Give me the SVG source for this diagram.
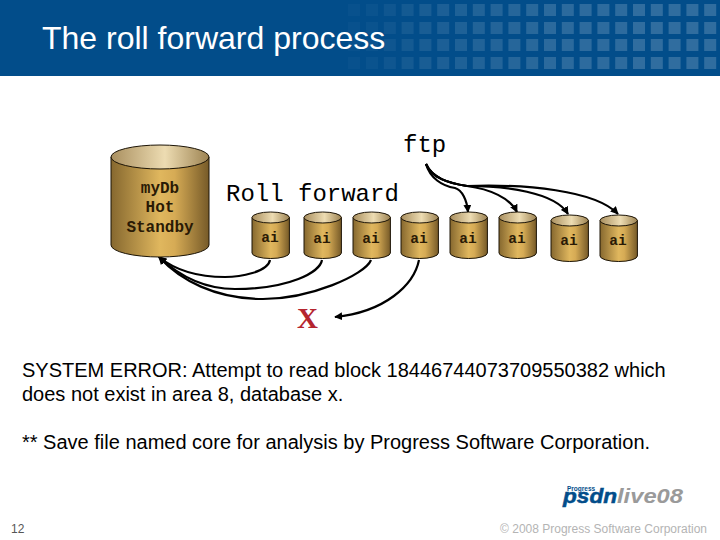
<svg xmlns="http://www.w3.org/2000/svg" width="720" height="540" viewBox="0 0 720 540">
<style>
.mono{font-family:"Liberation Mono",monospace;fill:#000}
.sans{font-family:"Liberation Sans",Arial,sans-serif;fill:#000;font-size:20px}
.db{font-family:"Liberation Mono",monospace;font-weight:bold;font-size:14.5px;fill:#2a1a05;text-anchor:middle}
.big{font-size:16px}
.edge{fill:none;stroke:#000;stroke-width:2.2}
.outline{stroke:#1c1406;stroke-width:1}
</style>
<defs>
<linearGradient id="body" x1="0" x2="1" y1="0" y2="0"><stop offset="0" stop-color="#86682f"/><stop offset=".5" stop-color="#e0b75e"/><stop offset=".65" stop-color="#d6ab55"/><stop offset="1" stop-color="#765a28"/></linearGradient>
<linearGradient id="top" x1="0" x2="1" y1="0" y2="0"><stop offset="0" stop-color="#a98f5f"/><stop offset=".55" stop-color="#eddcb2"/><stop offset="1" stop-color="#9d8352"/></linearGradient>
<marker id="arrb" viewBox="0 0 10 10" refX="9" refY="5" markerWidth="8" markerHeight="8" orient="auto" markerUnits="userSpaceOnUse"><path d="M0 0L10 5L0 10z" fill="#000"/></marker>
<g id="small"><path class="outline" d="M0 5.5V41a18.7 5.5 0 0 0 37.4 0V5.5z" fill="url(#body)"/><ellipse class="outline" cx="18.7" cy="5.5" rx="18.7" ry="5.5" fill="url(#top)"/></g>
<g id="col" fill="#fff"><rect y="4" width="12" height="12"/><rect y="22" width="12" height="12"/><rect y="39" width="12" height="12"/><rect y="57" width="12" height="12"/></g>
</defs>
<g id="header">
<rect width="720" height="76" fill="#024d8a"/>
<g id="squares">
<use href="#col" x="348" opacity=".025"/><use href="#col" x="366" opacity=".03"/><use href="#col" x="383.8" opacity=".05"/><use href="#col" x="401.6" opacity=".07"/><use href="#col" x="419.4" opacity=".09"/><use href="#col" x="437.2" opacity=".1"/><use href="#col" x="455" opacity=".11"/><use href="#col" x="472.8" opacity=".12"/><use href="#col" x="490.6" opacity=".13"/><use href="#col" x="508.4" opacity=".14"/><use href="#col" x="526.2" opacity=".15"/><use href="#col" x="544" opacity=".16"/><use href="#col" x="561.8" opacity=".16"/><use href="#col" x="579.6" opacity=".17"/><use href="#col" x="597.4" opacity=".17"/><use href="#col" x="615.2" opacity=".17"/><use href="#col" x="633" opacity=".18"/><use href="#col" x="650.8" opacity=".18"/><use href="#col" x="668.6" opacity=".18"/><use href="#col" x="686.4" opacity=".18"/><use href="#col" x="704.2" opacity=".18"/>
</g>
<text x="42" y="49" font-family="Liberation Sans, Arial, sans-serif" font-size="32" fill="#fff">The roll forward process</text>
</g>
<g id="connectors">
<path class="edge" d="M270 260C268 272 240 277 225 277C195 277 175 270 159 257" marker-end="url(#arrb)"/>
<path class="edge" d="M322 260C320 272 290 289 235 289C200 289 175 272 159 257" marker-end="url(#arrb)"/>
<path class="edge" d="M371 260C365 275 310 299 263 299C215 299 180 280 159 257" marker-end="url(#arrb)"/>
<path class="edge" d="M419 260C414 285 385 312 335 317" marker-end="url(#arrb)"/>
<path class="edge" d="M426 164C430 178 442 186 455 188C462 190 467 200 468 212" marker-end="url(#arrb)"/>
<path class="edge" d="M426 164C432 178 448 183 467 186C490 189 510 198 517 212" marker-end="url(#arrb)"/>
<path class="edge" d="M426 164C432 178 448 183 467 186C505 186 555 192 568 214" marker-end="url(#arrb)"/>
<path class="edge" d="M426 164C432 178 448 183 467 186C525 184 595 190 618 214" marker-end="url(#arrb)"/>
</g>
<g id="myDb">
<path class="outline" d="M111 157V245a49 12 0 0 0 98 0V157z" fill="url(#body)"/>
<ellipse class="outline" cx="160" cy="157" rx="49" ry="12" fill="url(#top)"/>
<text class="db big" x="160" y="193">myDb</text><text class="db big" x="160" y="212">Hot</text><text class="db big" x="160" y="232">Standby</text>
</g>
<g id="ai1"><use href="#small" x="252" y="212"/><text class="db" x="270" y="242">ai</text></g>
<g id="ai2"><use href="#small" x="304" y="212"/><text class="db" x="322" y="243">ai</text></g>
<g id="ai3"><use href="#small" x="353" y="212"/><text class="db" x="371" y="243">ai</text></g>
<g id="ai4"><use href="#small" x="401" y="212"/><text class="db" x="419" y="243">ai</text></g>
<g id="ai5"><use href="#small" x="450" y="212"/><text class="db" x="468" y="243">ai</text></g>
<g id="ai6"><use href="#small" x="499" y="212"/><text class="db" x="517" y="243">ai</text></g>
<g id="ai7"><use href="#small" x="551" y="215"/><text class="db" x="569" y="245">ai</text></g>
<g id="ai8"><use href="#small" x="600" y="215"/><text class="db" x="618" y="245">ai</text></g>
<g id="labels">
<text class="mono" x="403" y="152" font-size="24">ftp</text>
<text class="mono" x="226" y="201" font-size="24">Roll forward</text>
<text x="297" y="328" font-family="Liberation Serif, serif" font-weight="bold" font-size="29" fill="#b5252f">X</text>
</g>
<g id="body">
<text class="sans" x="22" y="376.500">SYSTEM ERROR: Attempt to read block 18446744073709550382 which</text>
<text class="sans" x="22" y="400.500">does not exist in area 8, database x.</text>
<text class="sans" x="22" y="448.500">** Save file named core for analysis by Progress Software Corporation.</text>
</g>
<g id="footer">
<text x="11" y="533" font-family="Liberation Sans, Arial, sans-serif" font-size="12" fill="#555">12</text>
<text x="707" y="533" text-anchor="end" font-family="Liberation Sans, Arial, sans-serif" font-size="12" fill="#b4b4b4">© 2008 Progress Software Corporation</text>
<text x="567" y="491" font-family="Liberation Sans, Arial, sans-serif" font-weight="bold" font-size="6.5" fill="#024d8a">Progress</text>
<text x="563" y="503" font-family="Liberation Sans, Arial, sans-serif" font-weight="bold" font-style="italic" font-size="20" textLength="54" lengthAdjust="spacingAndGlyphs" fill="#024d8a" stroke="#024d8a" stroke-width=".5">psdn</text>
<text x="617" y="503" font-family="Liberation Sans, Arial, sans-serif" font-weight="bold" font-style="italic" font-size="20" textLength="66" lengthAdjust="spacingAndGlyphs" fill="#9a9a9a">live08</text>
</g>
</svg>
